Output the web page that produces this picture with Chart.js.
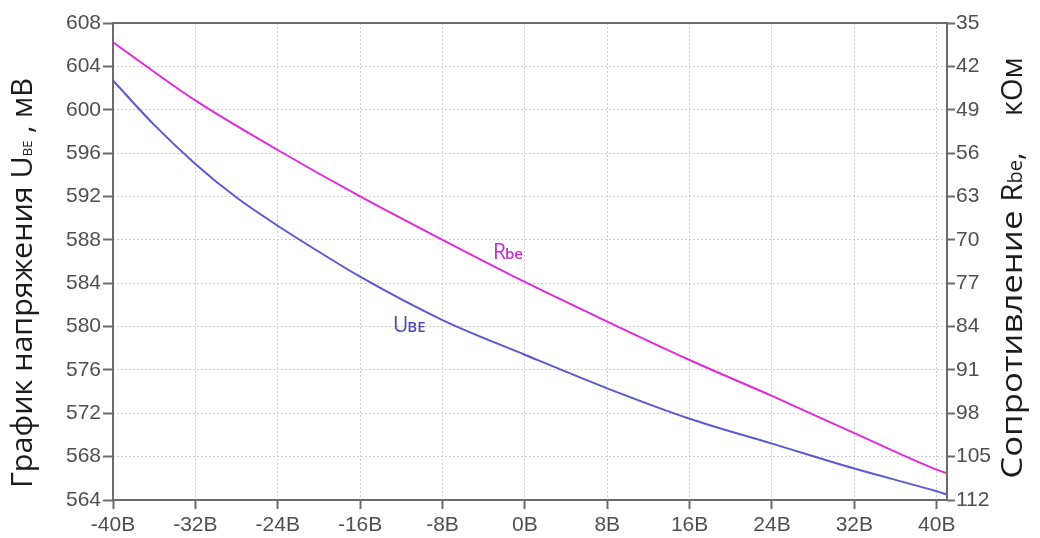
<!DOCTYPE html>
<html>
<head>
    <meta charset="utf-8">
    <title>UBE / Rbe</title>
    <script src="https://cdn.jsdelivr.net/npm/chart.js"></script>
    <style>
        html, body { margin: 0; padding: 0; background: #fff; }
        canvas { display: block; }
    </style>
</head>
<body>
    <canvas id="chart" width="1040" height="538"></canvas>

    <script>
        // readings: temperature (x) -> value
        const ubeTemps = [-40, -36, -32, -28, -24, -20, -16, -8, 0, 8, 16, 24, 32, 40, 41];
        const ube = [602.7, 598.6, 595.0, 591.9, 589.3, 586.9, 584.6, 580.6, 577.4, 574.3, 571.5, 569.2, 566.9, 564.8, 564.5];   // мВ
        const rbeTemps = [-40, -32, -24, -16, -8, 0, 8, 16, 24, 32, 40, 41];
        const rbe = [38.1, 47.5, 55.5, 63.0, 70.0, 76.8, 83.2, 89.4, 95.2, 101.2, 107.1, 107.7];   // кОм

        const xTicks = [-40, -32, -24, -16, -8, 0, 8, 16, 24, 32, 40];
        const ubeTicks = [564, 568, 572, 576, 580, 584, 588, 592, 596, 600, 604, 608];
        const rbeTicks = [35, 42, 49, 56, 63, 70, 77, 84, 91, 98, 105, 112];

        // curve labels, anchored in data units (x = temp, y = left axis)
        const curveLabels = [
            { main: 'R', sub: 'be', x: -3.1, y: 586.2, color: '#c22ec4' },
            { main: 'U', sub: 'BE', x: -12.8, y: 579.5, color: '#4b4bbd' }
        ];

        const tickFont = { family: "'Liberation Sans', Arial, sans-serif", size: 21 };
        const gridColor = '#cfcfcf';
        const axisColor = '#6b6b6b';

        const framePlugin = {
            id: 'frame',
            afterDatasetsDraw(chart) {
                const { ctx, chartArea: a } = chart;
                ctx.save();
                ctx.strokeStyle = axisColor;
                ctx.lineWidth = 2;
                ctx.strokeRect(a.left, a.top, a.right - a.left, a.bottom - a.top);
                ctx.restore();
            }
        };

        // vertical title made of parts (text, font, optional stretch sx)
        function drawRotated(ctx, cx, cy, parts, color) {
            ctx.save();
            ctx.translate(cx, cy);
            ctx.rotate(-Math.PI / 2);
            ctx.fillStyle = color;
            ctx.textBaseline = 'alphabetic';
            ctx.textAlign = 'left';
            let total = 0;
            parts.forEach(p => {
                ctx.font = p.font;
                p.w = ctx.measureText(p.text).width * (p.sx || 1);
                total += p.w;
            });
            let x = -total / 2;
            parts.forEach(p => {
                ctx.save();
                ctx.font = p.font;
                ctx.translate(x, 9);
                ctx.scale(p.sx || 1, 1);
                ctx.fillText(p.text, 0, 0);
                ctx.restore();
                x += p.w;
            });
            ctx.restore();
        }

        const titlesPlugin = {
            id: 'titles',
            afterDraw(chart) {
                const ctx = chart.ctx;
                const big = "29px 'Open Sans', sans-serif";
                drawRotated(ctx, 23, 283, [
                    { text: 'График напряжения U', font: big, sx: 1.05 },
                    { text: 'BE', font: "13px 'Open Sans', sans-serif" },
                    { text: ' , мВ', font: big }
                ], '#1c1c1c');
                drawRotated(ctx, 1013, 268, [
                    { text: 'Сопротивление ', font: big, sx: 1.2 },
                    { text: 'R', font: big },
                    { text: 'be', font: "20px 'Open Sans', sans-serif" },
                    { text: ',\u2003 кОм', font: big }
                ], '#1c1c1c');

                const xs = chart.scales.x, ys = chart.scales.y;
                curveLabels.forEach(l => {
                    const px = xs.getPixelForValue(l.x);
                    const py = ys.getPixelForValue(l.y);
                    ctx.save();
                    ctx.fillStyle = l.color;
                    ctx.textBaseline = 'alphabetic';
                    ctx.font = "21px 'Open Sans', sans-serif";
                    ctx.fillText(l.main, px, py);
                    const w = ctx.measureText(l.main).width;
                    ctx.font = "600 15px 'Open Sans', sans-serif";
                    ctx.fillText(l.sub, px + w - 1, py);
                    ctx.restore();
                });
            }
        };

        new Chart(document.getElementById('chart'), {
            type: 'line',
            data: {
                datasets: [{
                    label: 'UBE',
                    data: ubeTemps.map((t, i) => ({ x: t, y: ube[i] })),
                    yAxisID: 'y',
                    borderColor: '#5a5ad0',
                    borderWidth: 2,
                    pointRadius: 0,
                    cubicInterpolationMode: 'monotone'
                }, {
                    label: 'Rbe',
                    data: rbeTemps.map((t, i) => ({ x: t, y: rbe[i] })),
                    yAxisID: 'y1',
                    borderColor: '#e02bdc',
                    borderWidth: 2,
                    pointRadius: 0,
                    cubicInterpolationMode: 'monotone'
                }]
            },
            options: {
                responsive: false,
                animation: false,
                layout: { padding: { top: 23, left: 0, right: 0, bottom: 0 } },
                plugins: { legend: { display: false }, tooltip: { enabled: false } },
                scales: {
                    x: {
                        type: 'linear',
                        min: -40,
                        max: 41,
                        afterBuildTicks: s => { s.ticks = xTicks.map(v => ({ value: v })); },
                        afterFit: s => { s.height = 38; },
                        ticks: {
                            callback: v => v + 'В',
                            color: '#4f4f4f',
                            font: tickFont,
                            padding: 4,
                            maxRotation: 0,
                            autoSkip: false
                        },
                        grid: { color: gridColor, tickColor: axisColor, tickLength: 9, tickWidth: 2 },
                        border: { display: false, dash: [2, 2] }
                    },
                    y: {
                        position: 'left',
                        min: 564,
                        max: 608,
                        afterBuildTicks: s => { s.ticks = ubeTicks.map(v => ({ value: v })); },
                        afterFit: s => { s.width = 113; },
                        ticks: { color: '#4f4f4f', font: tickFont, padding: 2 },
                        grid: { color: gridColor, tickColor: axisColor, tickLength: 10, tickWidth: 2 },
                        border: { display: false, dash: [2, 2] }
                    },
                    y1: {
                        position: 'right',
                        reverse: true,
                        min: 35,
                        max: 112,
                        afterBuildTicks: s => { s.ticks = rbeTicks.map(v => ({ value: v })); },
                        afterFit: s => { s.width = 93; },
                        ticks: { color: '#4f4f4f', font: tickFont, padding: 1 },
                        grid: { drawOnChartArea: false, tickColor: axisColor, tickLength: 8, tickWidth: 2 },
                        border: { display: false }
                    }
                }
            },
            plugins: [framePlugin, titlesPlugin]
        });
    </script>
</body>
</html>
